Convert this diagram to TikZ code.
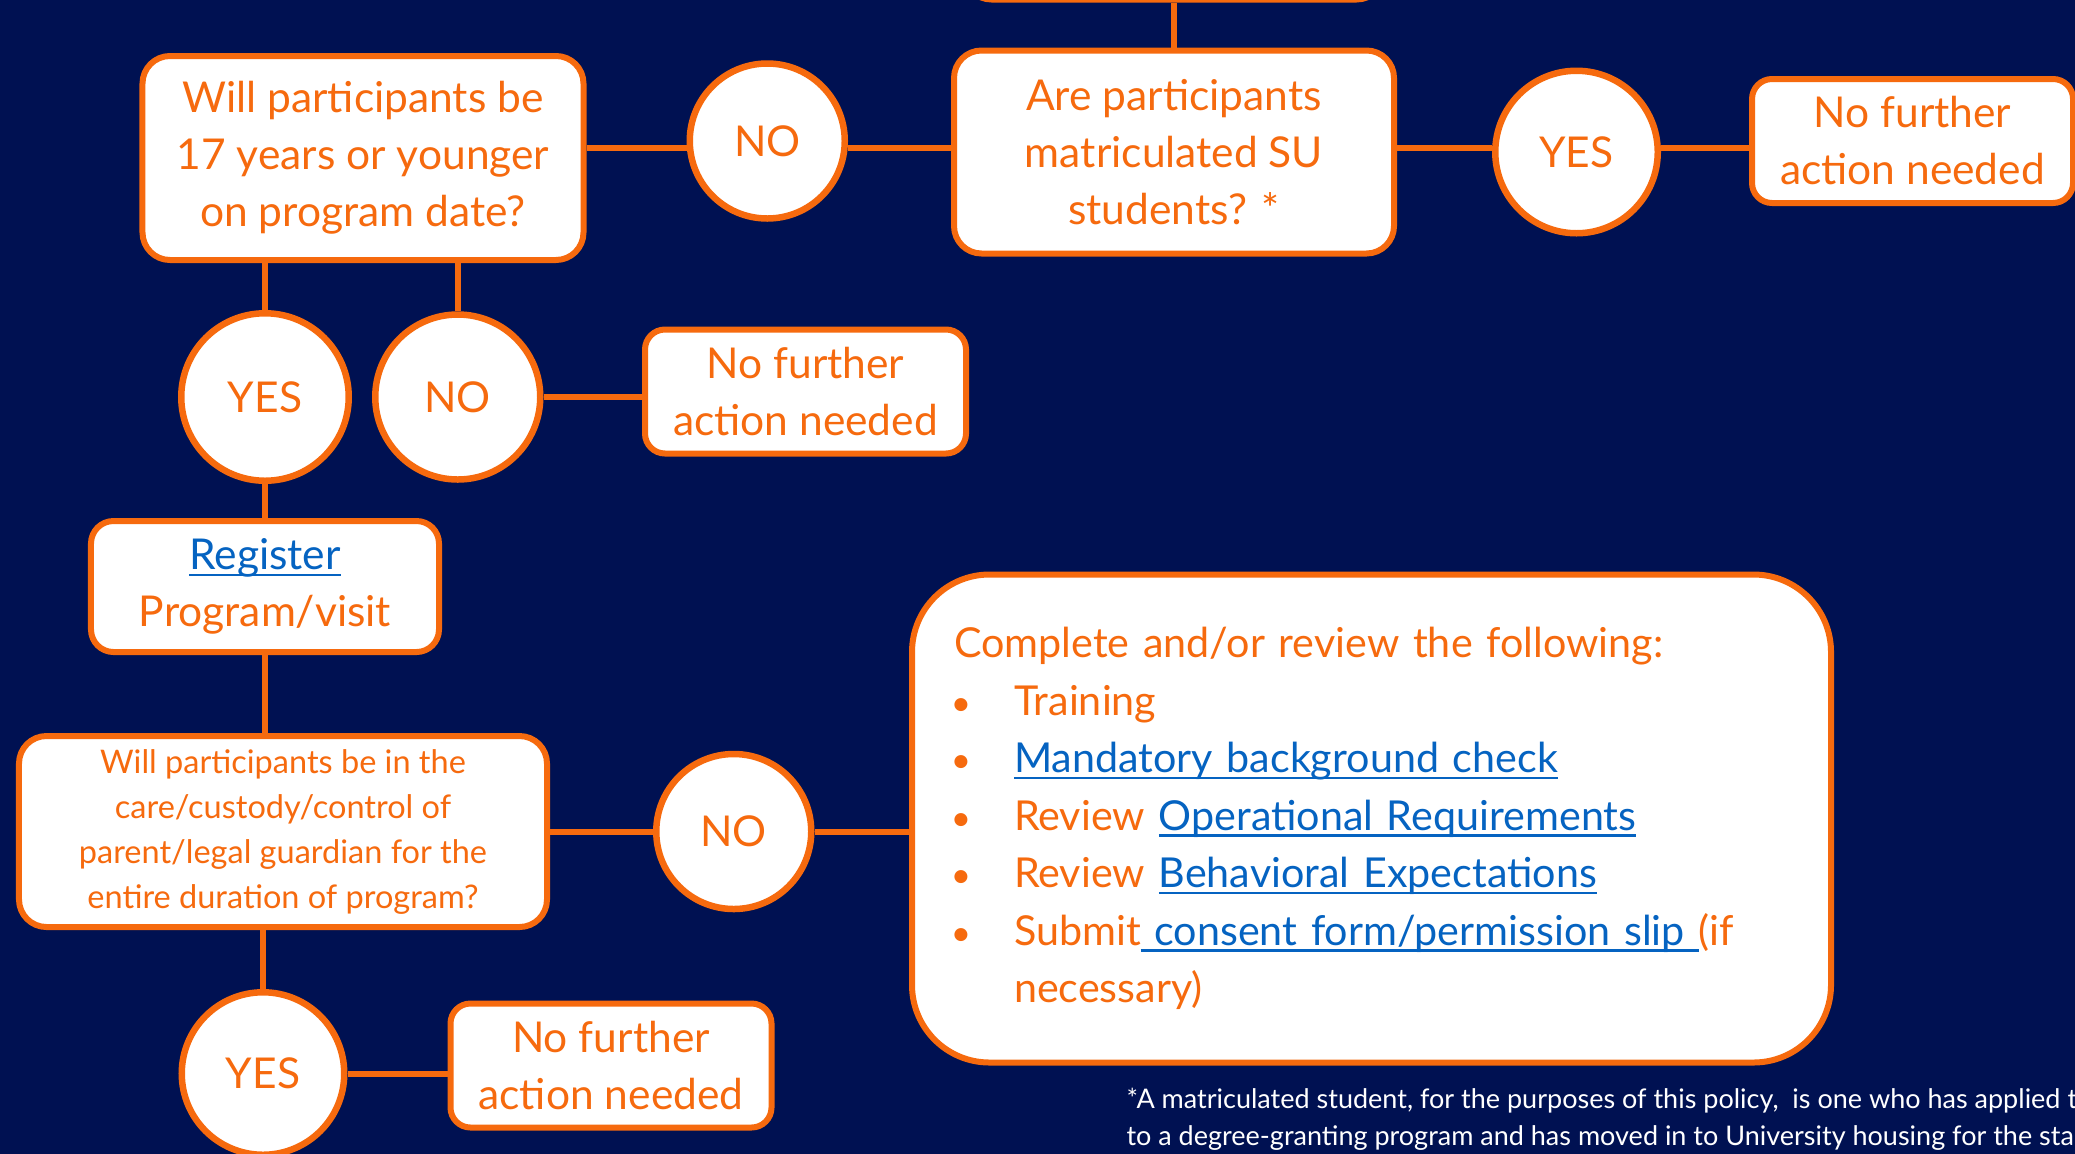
\documentclass[tikz,border=0pt]{standalone}
\usepackage{fontspec}
\setmainfont{Lato}
\usepackage{xcolor}
\usepackage{tikz}
\usetikzlibrary{positioning}

\definecolor{navy}{RGB}{0,17,82}
\definecolor{suorange}{RGB}{246,106,14}
\definecolor{linkblue}{RGB}{5,99,193}

\newcommand{\lnk}[1]{{\color{linkblue}\setbox0\hbox{#1}%
  \rlap{\rule[-2.6pt]{\wd0}{0.9pt}}\box0}}
\newcommand{\bul}{\hspace*{2.8pt}\makebox[0pt]{\fontsize{14}{14}\selectfont\textbullet}%
  \hspace*{21.2pt}}

\tikzset{
  qbox/.style={draw=suorange, fill=white, line width=2.4pt,
    rounded corners=11pt, text=suorange, align=center, inner sep=2pt,
    font=\fontsize{17}{22.8}\selectfont},
  donebox/.style={qbox, rounded corners=8pt,
    minimum width=128.4pt, minimum height=49.6pt},
  answer/.style={circle, draw=suorange, fill=white, line width=2.6pt,
    text=suorange, inner sep=0pt, minimum size=63pt,
    font=\fontsize{17}{20}\selectfont},
  wire/.style={draw=suorange, line width=2.4pt}
}

\begin{document}
\begin{tikzpicture}[x=0.4pt, y=-0.4pt]
  \useasboundingbox (0,0) rectangle (2075,1154);
  \fill[navy] (0,0) rectangle (2075,1154);
  \clip (0,0) rectangle (2075,1154);

  \node(age)[qbox, minimum width=176.4pt, minimum height=81.6pt]
    at (363,158)
  {Will participants be\\17 years or younger\\on program date?};

  \node(notsu)[answer, minimum size=62pt, right=40pt of age,
               yshift=6.8pt] {NO};

  \node(matric)[qbox, minimum width=176pt, minimum height=81.2pt,
                right=41.2pt of notsu, yshift=-4.4pt]
  {Are participants\\matriculated SU\\students? *};

  \node(prev)[qbox, minimum width=168pt, minimum height=60pt,
              above=18pt of matric] {};

  \node(su)[answer, minimum size=65pt, right=38pt of matric] {YES};

  \node(done1)[donebox, right=35.2pt of su, yshift=4.4pt]
  {No further\\action needed};

  \coordinate(row1) at (0,148);

  \node(yes2)[answer, minimum size=67pt, below=18.8pt of age,
              xshift=-39.2pt] {YES};
  \node(no2)[answer, minimum size=66pt, right=8pt of yes2] {NO};

  \node(done2)[donebox, right=39.4pt of no2, yshift=2.2pt]
  {No further\\action needed};

  \node(reg)[qbox, rounded corners=9pt, minimum width=139.2pt,
             minimum height=52.4pt, below=13.6pt of yes2]
  {\lnk{Register}\\Program/visit};

  \node(care)[qbox, minimum width=211.2pt, minimum height=76.4pt,
              below=31.2pt of reg, xshift=7.2pt,
              font=\fontsize{13}{18}\selectfont]
  {Will participants be in the\\care/custody/control of\\
   parent/legal guardian for the\\entire duration of program?};

  \node(no3)[answer, minimum size=62pt, right=41.2pt of care] {NO};

  \node(todo)[qbox, rounded corners=31pt, align=left,
              text width=334pt, inner xsep=16.8pt,
              minimum height=195.2pt, right=37.8pt of no3, yshift=5.2pt,
              font=\fontsize{16.5}{23}\selectfont]
  {Complete and/or review the following:\\
   \bul Training\\
   \bul\lnk{Mandatory background check}\\
   \bul Review \lnk{Operational Requirements}\\
   \bul Review \lnk{Behavioral Expectations}\\
   \bul Submit\lnk{\ consent form/permission slip\ }(if\\
   \hspace*{24pt}necessary)};

  \node(yes3)[answer, minimum size=65pt, below=23.6pt of care,
              xshift=-8pt] {YES};

  \node(done3)[donebox, right=40pt of yes3, yshift=3.2pt]
  {No further\\action needed};

  \node(note)[anchor=north west, inner sep=0pt, align=left, text=white,
              font=\fontsize{10.8}{14.8}\selectfont] at (1126,1088)
  {*A matriculated student, for the purposes of this policy,\ \ is one who has applied t\\
   to a degree-granting program and has moved in to University housing for the sta};

  \draw[wire] (prev) -- (matric);
  \draw[wire] (age.east |- row1) -- (notsu.west |- row1)
    (notsu.east |- row1) -- (matric.west |- row1);
  \draw[wire] (matric.east |- row1) -- (su.west |- row1)
    (su.east |- row1) -- (done1.west |- row1);
  \draw[wire] (yes2.north) -- (yes2.north |- age.south);
  \draw[wire] (no2.north) -- (no2.north |- age.south);
  \draw[wire] (no2.east) -- (no2.east -| done2.west);
  \draw[wire] (yes2.south) -- (reg.north);
  \draw[wire] (reg.south) -- (reg.south |- care.north);
  \draw[wire] (care.east |- no3.west) -- (no3.west)
    (no3.east) -- (no3.east -| todo.west);
  \draw[wire] (yes3.north) -- (yes3.north |- care.south);
  \draw[wire] (yes3.east) -- (yes3.east -| done3.west);

\end{tikzpicture}
\end{document}
